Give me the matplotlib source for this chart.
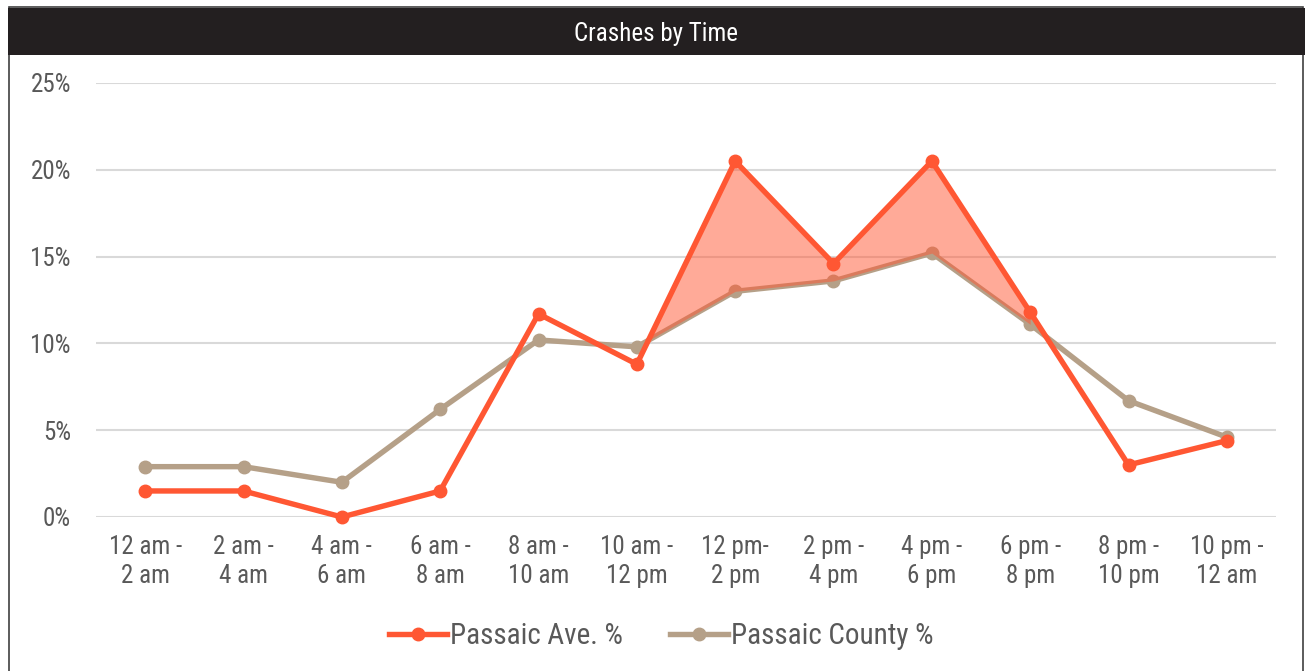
import numpy as np
import matplotlib.pyplot as plt
from matplotlib.patches import Rectangle
from matplotlib.ticker import FuncFormatter

plt.rcParams['font.family'] = ['Liberation Sans Narrow', 'Roboto Condensed', 'DejaVu Sans']

time_slots = ['12 am -\n2 am', '2 am -\n4 am', '4 am -\n6 am', '6 am -\n8 am',
              '8 am -\n10 am', '10 am -\n12 pm', '12 pm-\n2 pm', '2 pm -\n4 pm',
              '4 pm -\n6 pm', '6 pm -\n8 pm', '8 pm -\n10 pm', '10 pm -\n12 am']
passaic_ave = [1.5, 1.5, 0.0, 1.5, 11.7, 8.8, 20.5, 14.6, 20.5, 11.8, 3.0, 4.4]
passaic_county = [2.9, 2.9, 2.0, 6.2, 10.2, 9.8, 13.0, 13.6, 15.2, 11.1, 6.7, 4.6]

ave_color = '#ff5733'
county_color = '#b5a088'
text_color = '#595959'

fig = plt.figure(figsize=(13.08, 6.71), dpi=100)
ax = fig.add_axes([96 / 1308, 1 - 517 / 671, 1180 / 1308, 434 / 671])

x = np.arange(len(time_slots))
ave = np.array(passaic_ave)
county = np.array(passaic_county)

ax.plot(x, county, color=county_color, lw=3.9, marker='o', ms=9,
        label='Passaic County %', zorder=3, clip_on=False)

# shade the midday stretch where the avenue runs above the county
mid = slice(5, 10)
ax.fill_between(x[mid], ave[mid], county[mid], where=ave[mid] > county[mid],
                interpolate=True, color=ave_color, alpha=0.5, lw=0, zorder=4)

ax.plot(x, ave, color=ave_color, lw=3.9, marker='o', ms=9,
        label='Passaic Ave. %', zorder=5, clip_on=False)

ax.set_xlim(-0.5, len(time_slots) - 0.5)
ax.set_ylim(0, 25)
ax.set_yticks(np.arange(0, 26, 5))
ax.yaxis.set_major_formatter(FuncFormatter(lambda v, p: f'{int(v)}%'))
ax.set_xticks(x)
ax.set_xticklabels(time_slots, linespacing=1.25)
ax.grid(axis='y', color='#d9d9d9', lw=1.5)
ax.set_axisbelow(True)
for s in ax.spines.values():
    s.set_visible(False)
ax.tick_params(axis='both', length=0, labelsize=18, colors=text_color)
ax.tick_params(axis='x', pad=13)
ax.tick_params(axis='y', pad=18)

handles, labels = ax.get_legend_handles_labels()
fig.legend(handles[::-1], labels[::-1], loc='center', bbox_to_anchor=(661 / 1308, 1 - 636 / 671),
           ncol=2, frameon=False, fontsize=21, labelcolor=text_color,
           handlelength=2.0, handletextpad=0.1, columnspacing=1.6)

# frame and title bar
fig.patches.append(Rectangle((9 / 1308, -0.01), 1294 / 1308, 1.0, transform=fig.transFigure,
                             fill=False, ec='#404040', lw=1.2))
fig.patches.append(Rectangle((8 / 1308, 1 - 55 / 671), 1297 / 1308, 47 / 671,
                             transform=fig.transFigure, fc='#231f20', ec='none'))
fig.text(656 / 1308, 1 - 34 / 671, 'Crashes by Time', color='white', fontsize=18,
         ha='center', va='center')

fig.savefig('out.png', dpi=100)
